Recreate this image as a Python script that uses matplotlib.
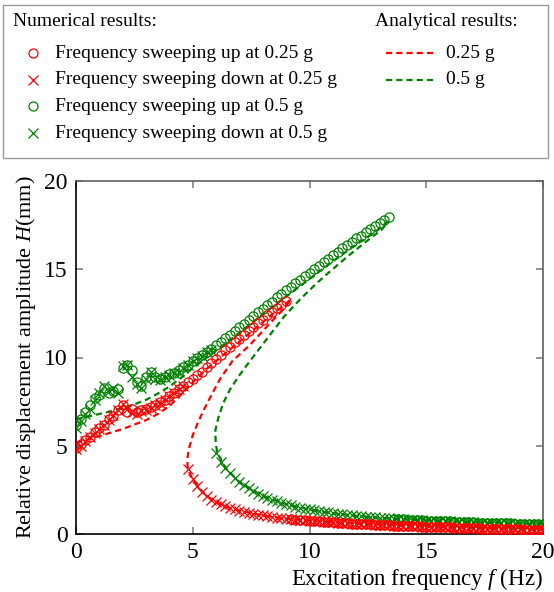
import numpy as np
import matplotlib
matplotlib.use("Agg")
import matplotlib.pyplot as plt
from matplotlib.lines import Line2D
from matplotlib.patches import Rectangle

# sweep grid (Hz), 0.2 Hz steps
freq = np.linspace(0, 20, 101)

# numerical results, 0.25 g, sweeping down (upper branch f<=4.6, lower branch f>=4.8)
red_down = [4.8, 5.0, 5.25, 5.5, 5.7, 5.95, 6.2, 6.45, 6.75, 7.05,
            7.35, 7.1, 6.9, 6.8, 6.95, 7.05, 7.15, 7.3, 7.45, 7.6,
            7.8, 8.0, 8.2, 8.4,
            3.7, 3.1, 2.7, 2.4, 2.15, 1.95, 1.8, 1.68, 1.57, 1.48,
            1.4, 1.33, 1.26, 1.2, 1.14, 1.09, 1.05, 1.0, 0.97, 0.93,
            0.9, 0.87, 0.84, 0.82, 0.79, 0.77, 0.75, 0.73, 0.71, 0.69,
            0.67, 0.66, 0.64, 0.62, 0.61, 0.59, 0.58, 0.57, 0.55, 0.54,
            0.53, 0.52, 0.51, 0.49, 0.48, 0.47, 0.46, 0.45, 0.44, 0.43,
            0.42, 0.41, 0.40, 0.39, 0.38, 0.38, 0.37, 0.36, 0.35, 0.34,
            0.33, 0.33, 0.32, 0.31, 0.30, 0.30, 0.29, 0.28, 0.28, 0.27,
            0.26, 0.26, 0.25, 0.24, 0.24, 0.23, 0.22]

# numerical results, 0.25 g, sweeping up: resonant branch up to 9.0 Hz, then jump down
red_up_upper = [4.9, 5.1, 5.3, 5.5, 5.8, 6.0, 6.2, 6.5, 6.7, 7.0,
                7.3, 6.9, 7.1, 6.9, 7.0, 7.1, 7.2, 7.3, 7.5, 7.6,
                7.8, 8.0, 8.2, 8.4, 8.6, 8.8, 9.0, 9.2, 9.45, 9.7,
                9.9, 10.15, 10.4, 10.6, 10.85, 11.05, 11.3, 11.5, 11.75, 11.95,
                12.15, 12.4, 12.6, 12.8, 13.0, 13.2]
red_up = red_up_upper + red_down[len(red_up_upper):]

# numerical results, 0.5 g, sweeping down (upper branch f<=5.8, lower branch f>=6.0)
green_down = [6.0, 6.4, 6.8, 7.1, 7.6, 8.0, 8.4, 8.1, 8.3, 8.0,
              9.5, 9.6, 8.9, 8.5, 8.3, 8.8, 9.2, 8.8, 8.7, 8.9,
              9.0, 9.1, 9.2, 9.4, 9.6, 9.8, 9.95, 10.1, 10.3, 10.45,
              4.6, 4.1, 3.75, 3.45, 3.15, 2.93, 2.75, 2.58, 2.43, 2.29,
              2.16, 2.05, 1.95, 1.86, 1.77, 1.69, 1.62, 1.55, 1.49, 1.44,
              1.39, 1.34, 1.3, 1.26, 1.22, 1.18, 1.15, 1.12, 1.09, 1.06,
              1.03, 1.01, 0.98, 0.96, 0.94, 0.92, 0.9, 0.88, 0.86, 0.85,
              0.83, 0.82, 0.8, 0.79, 0.78, 0.76, 0.75, 0.74, 0.73, 0.72,
              0.71, 0.7, 0.69, 0.68, 0.67, 0.66, 0.65, 0.64, 0.63, 0.63,
              0.62, 0.61, 0.6, 0.6, 0.59, 0.58, 0.58, 0.57, 0.56, 0.56,
              0.55]

# numerical results, 0.5 g, sweeping up: resonant branch up to 13.4 Hz, then jump down
green_up_upper = [6.2, 6.5, 6.9, 7.3, 7.7, 7.9, 8.3, 8.0, 8.1, 8.2,
                  9.4, 9.6, 9.3, 8.6, 8.4, 8.9, 9.2, 8.9, 8.8, 8.9,
                  9.05, 9.15, 9.3, 9.45, 9.6, 9.8, 9.95, 10.15, 10.3, 10.5,
                  10.7, 10.9, 11.1, 11.3, 11.5, 11.7, 11.9, 12.15, 12.35, 12.55,
                  12.75, 12.95, 13.15, 13.4, 13.6, 13.8, 14.0, 14.2, 14.4, 14.6,
                  14.8, 15.0, 15.2, 15.4, 15.6, 15.8, 16.0, 16.2, 16.4, 16.55,
                  16.75, 16.9, 17.1, 17.3, 17.45, 17.6, 17.8, 17.95]
green_up = green_up_upper + green_down[len(green_up_upper):]

# analytical frequency-response curves (stable upper, unstable, stable lower)
ana_red_f = [0, 0.5, 1.0, 1.5, 2.0, 2.5, 3.0, 3.5, 4.0, 4.5, 5.0, 5.5, 6.0, 6.5, 7.0,
             7.5, 8.0, 8.5, 8.9, 9.2,
             8.9, 8.6, 8.0, 7.4, 6.7, 6.2, 5.85, 5.5, 5.25, 5.0, 4.85, 4.77, 4.78,
             5.0, 5.3, 5.6, 6.0, 6.5, 7.0, 8.0, 9.0, 10, 11, 12, 13, 14, 15, 16,
             17, 18, 19, 20]
ana_red_H = [5.15, 5.35, 5.55, 5.75, 5.95, 6.2, 6.45, 6.8, 7.25, 7.9, 8.6, 9.25, 9.8, 10.35, 10.9,
             11.45, 12.0, 12.55, 12.95, 13.3,
             12.75, 12.35, 11.5, 10.65, 9.8, 8.85, 8.0, 7.1, 6.4, 5.6, 4.9, 4.3, 3.7,
             3.1, 2.55, 2.15, 1.8, 1.52, 1.33, 1.05, 0.87, 0.75, 0.66, 0.58, 0.52, 0.46, 0.41, 0.37,
             0.33, 0.29, 0.26, 0.22]

ana_green_f = [0, 0.5, 1.0, 1.5, 2.0, 2.5, 3.0, 3.5, 4.0, 4.5, 5.0, 5.5, 6.0, 7.0, 8.0,
               9.0, 10.0, 11.0, 12.0, 12.8, 13.35,
               13.1, 12.6, 11.7, 10.9, 10.3, 9.6, 8.9, 8.2, 7.45, 7.0, 6.6, 6.3, 6.1, 5.97,
               5.98, 6.05,
               6.4, 7.0, 8.0, 9.0, 10, 11, 12, 13, 14, 15, 16, 17, 18, 19, 20]
ana_green_H = [6.5, 6.65, 6.8, 6.95, 7.15, 7.35, 7.6, 7.95, 8.35, 8.85, 9.4, 9.9, 10.4, 11.4, 12.45,
               13.45, 14.45, 15.45, 16.4, 17.1, 17.7,
               17.25, 16.75, 15.8, 14.9, 14.2, 13.3, 12.3, 11.1, 9.8, 9.0, 8.2, 7.4, 6.6, 5.9,
               5.2, 4.6,
               3.75, 2.93, 2.16, 1.69, 1.39, 1.18, 1.03, 0.92, 0.83, 0.76, 0.71, 0.66, 0.62, 0.58, 0.55]

RED = "#ff0000"
GREEN = "#008000"

plt.rcParams["font.family"] = "Liberation Serif"
plt.rcParams["mathtext.fontset"] = "custom"
plt.rcParams["mathtext.rm"] = "Liberation Serif"
plt.rcParams["mathtext.it"] = "Liberation Serif:italic"

W, H = 554, 592
fig = plt.figure(figsize=(W / 100, H / 100), dpi=100)
ax = fig.add_axes([76 / W, 1 - 534 / H, (543 - 76) / W, (534 - 181) / H])

ms = 6.6
mew = 0.9
ax.plot(freq, green_up, ls="none", marker="o", ms=ms, mfc="none", mec=GREEN, mew=mew, zorder=3)
ax.plot(freq, green_down, ls="none", marker="x", ms=ms, mec=GREEN, mew=mew, zorder=3)
ax.plot(freq, red_up, ls="none", marker="o", ms=ms, mfc="none", mec=RED, mew=mew, zorder=4)
ax.plot(freq, red_down, ls="none", marker="x", ms=ms, mec=RED, mew=mew, zorder=4)

dash = (2.8, 1.8)
ax.plot(ana_red_f, ana_red_H, color=RED, lw=1.6, ls=(0, dash), zorder=2)
ax.plot(ana_green_f, ana_green_H, color=GREEN, lw=1.6, ls=(0, dash), zorder=2)

ax.set_xlim(0, 20)
ax.set_ylim(0, 20)
ax.set_xticks([0, 5, 10, 15, 20])
ax.set_yticks([0, 5, 10, 15, 20])
ax.tick_params(direction="in", length=5, width=1.2, color="#808080", labelsize=17,
               top=True, right=True, pad=6)
for side in ["left", "bottom"]:
    ax.spines[side].set_color("black")
    ax.spines[side].set_linewidth(1.2)
for side in ["top", "right"]:
    ax.spines[side].set_color("#606060")
    ax.spines[side].set_linewidth(1.2)

ax.set_xlabel("Excitation frequency $f$ (Hz)", fontsize=16.5, loc="right", labelpad=2)
ax.set_ylabel("Relative displacement amplitude $H$(mm)", fontsize=16, labelpad=4)

# legend block drawn in pixel positions of the figure
def fx(px):
    return px / W

def fy(py):
    return 1 - py / H

fig.add_artist(Rectangle((fx(3), fy(158)), fx(548) - fx(3), fy(5) - fy(158),
                         transform=fig.transFigure, fill=False, ec="#999999", lw=1.0))

fig.text(fx(13), fy(21), "Numerical results:", fontsize=14, va="center", ha="left")
num_entries = [("o", RED, "Frequency sweeping up at 0.25 g"),
               ("x", RED, "Frequency sweeping down at 0.25 g"),
               ("o", GREEN, "Frequency sweeping up at 0.5 g"),
               ("x", GREEN, "Frequency sweeping down at 0.5 g")]
for i, (m, c, label) in enumerate(num_entries):
    yy = 53 + i * 26.7
    fig.add_artist(Line2D([fx(33)], [fy(yy)], ls="none", marker=m, ms=6.5, mfc="none",
                          mec=c, mew=0.9, transform=fig.transFigure))
    fig.text(fx(55), fy(yy), label, fontsize=14, va="center", ha="left")

fig.text(fx(375), fy(21), "Analytical results:", fontsize=14, va="center", ha="left")
for i, (c, label) in enumerate([(RED, "0.25 g"), (GREEN, "0.5 g")]):
    yy = 53 + i * 26.7
    fig.add_artist(Line2D([fx(386), fx(434)], [fy(yy), fy(yy)], color=c, lw=1.6,
                          ls=(0, dash), transform=fig.transFigure))
    fig.text(fx(446), fy(yy), label, fontsize=14, va="center", ha="left")

fig.savefig("out.png", dpi=100)
